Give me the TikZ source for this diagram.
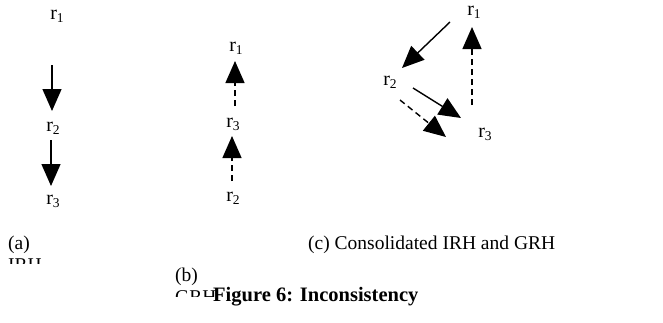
\documentclass[tikz,border=0pt]{standalone}
\usepackage{fontspec}
\setmainfont{Liberation Serif}
\usetikzlibrary{arrows.meta}
\newcommand{\rsub}[1]{r\raisebox{-3.5pt}{\fontsize{13.5}{14}\selectfont #1}}
\begin{document}
\begin{tikzpicture}[x=1pt,y=-1pt,
  lbl/.style={font=\fontsize{20}{22}\selectfont, inner sep=0pt, anchor=base},
  captext/.style={font=\fontsize{19.5}{22}\selectfont, inner sep=0pt, anchor=base west},
  conn/.style={line width=1.4pt, -{Triangle[width=19pt,length=22pt]}},
  dconn/.style={conn, dash pattern=on 6pt off 4pt}]
\useasboundingbox (0,0) rectangle (663,322);
% (a)
\node[lbl] (a1) at (57,19) {\rsub{1}};
\node[lbl] (a2) at (53,131) {\rsub{2}};
\node[lbl] (a3) at (53,204) {\rsub{3}};
\coordinate (a1s) at (52,65); \coordinate (a2t) at (52,111);
\coordinate (a2s) at (51,140); \coordinate (a3t) at (51,186);
\draw[conn] (a1s) -- (a2t);
\draw[conn] (a2s) -- (a3t);
% (b)
\node[lbl] (b1) at (236,51) {\rsub{1}};
\node[lbl] (b3) at (233,127) {\rsub{3}};
\node[lbl] (b2) at (233,201) {\rsub{2}};
\coordinate (b3s) at (235,106); \coordinate (b1t) at (235,61);
\coordinate (b2s) at (232,181); \coordinate (b3t) at (232,136);
\draw[dconn] (b3s) -- (b1t);
\draw[dconn] (b2s) -- (b3t);
% (c)
\node[lbl] (c1) at (474,15) {\rsub{1}};
\node[lbl] (c2) at (390,85) {\rsub{2}};
\node[lbl] (c3) at (485,137) {\rsub{3}};
\coordinate (c1s) at (450,22); \coordinate (c2t) at (402,68);
\coordinate (c3s) at (472,105); \coordinate (c1t) at (472,27);
\coordinate (c2s) at (413,88); \coordinate (c3t) at (461,118);
\coordinate (c2d) at (400,100); \coordinate (c3d) at (446,137);
\draw[conn] (c1s) -- (c2t);
\draw[dconn] (c3s) -- (c1t);
\draw[conn] (c2s) -- (c3t);
\draw[dconn] (c2d) -- (c3d);
% captions
\node[captext] (capa) at (8,249) {(a)};
\begin{scope}
\clip (0,254) rectangle (120,263);
\node[captext] (capai) at (8,271) {IRH};
\end{scope}
\node[captext] (capc) at (308,249) {(c) Consolidated IRH and GRH};
\node[captext] (capb) at (175,281) {(b)};
\begin{scope}
\clip (160,286) rectangle (240,296);
\node[captext] (capbg) at (175,303) {GRH};
\end{scope}
\node[captext, font=\fontsize{20.5}{22}\selectfont\bfseries] (fig) at (213,301) {Figure 6: Inconsistency};
\end{tikzpicture}
\end{document}
